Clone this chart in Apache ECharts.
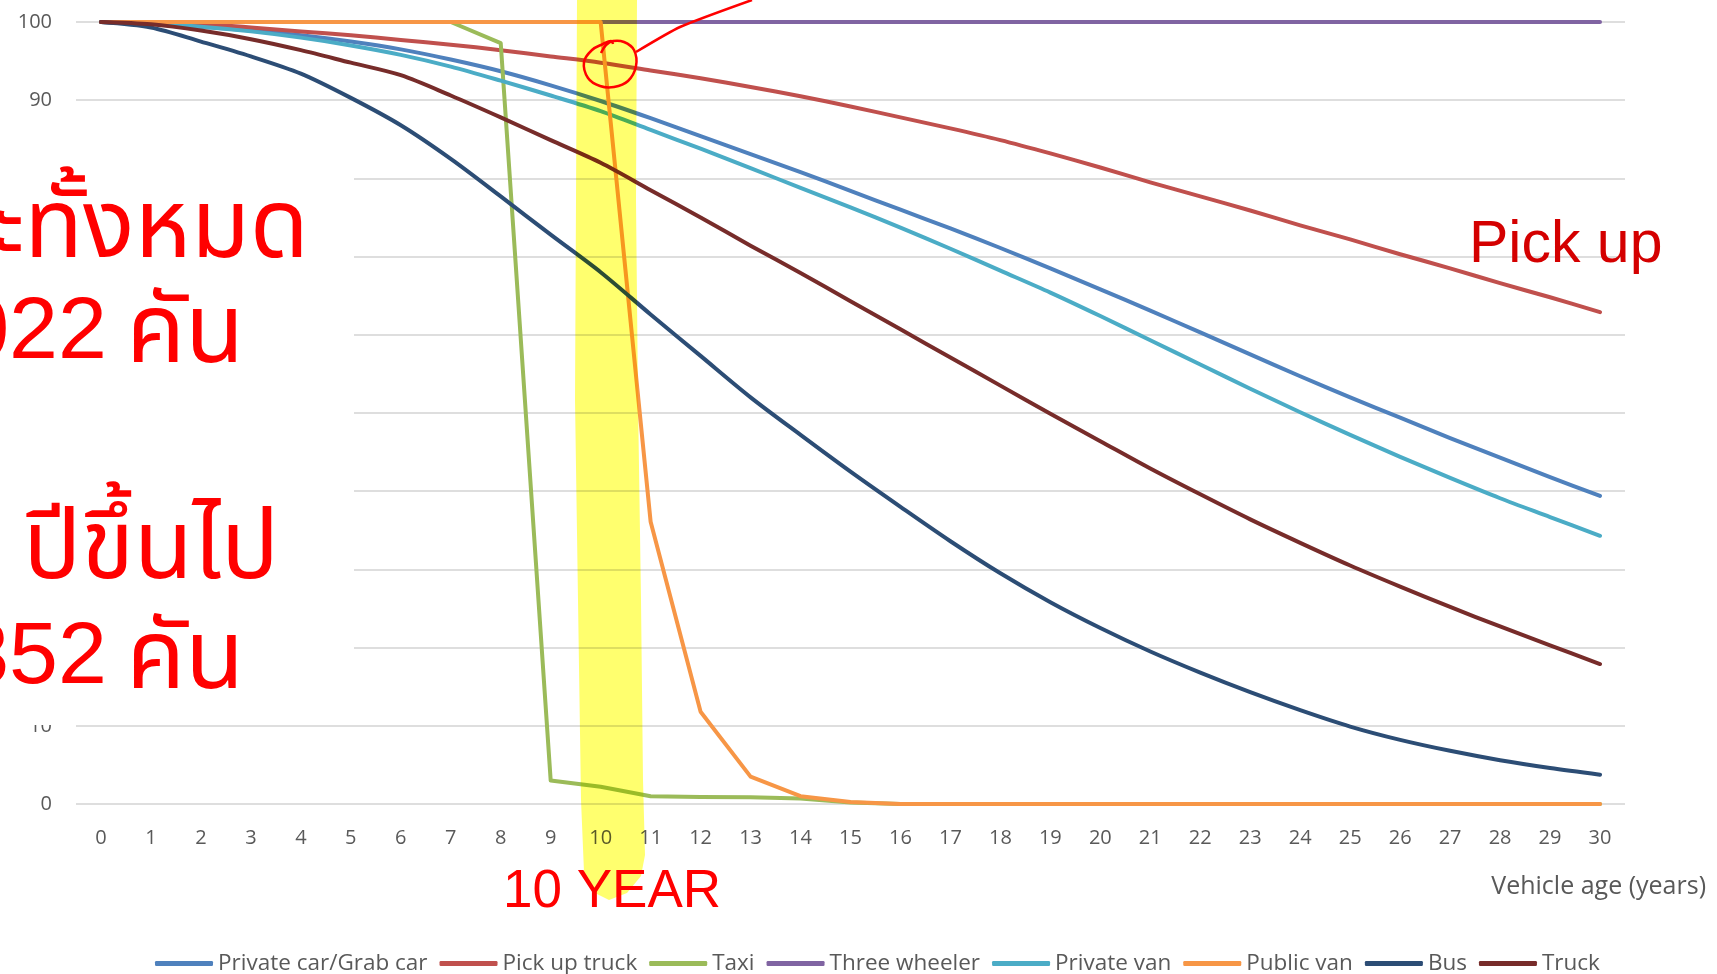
<!DOCTYPE html>
<html>
<head>
<meta charset="utf-8">
<script src="https://cdn.jsdelivr.net/npm/echarts@6/dist/echarts.min.js"></script>
<style>
  html, body { margin: 0; padding: 0; background: #ffffff; }
  #chart { width: 1717px; height: 974px; }
</style>
</head>
<body>
<div id="chart"></div>
<script>
// Vehicle age in years (category axis)
const years = ['0','1','2','3','4','5','6','7','8','9','10','11','12','13','14','15',
               '16','17','18','19','20','21','22','23','24','25','26','27','28','29','30'];

// Share of vehicles still in service (%) by age
const privateCar = [100, 99.8, 99.4, 98.9, 98.3, 97.5, 96.5, 95.2, 93.7, 91.9, 89.9, 87.7, 85.4, 83.1, 80.8, 78.4,
                    76.0, 73.6, 71.1, 68.5, 65.8, 63.1, 60.3, 57.5, 54.7, 52.0, 49.4, 46.8, 44.3, 41.8, 39.4];
const pickUpTruck = [100, 99.9, 99.7, 99.3, 98.8, 98.3, 97.7, 97.1, 96.4, 95.6, 94.8, 93.8, 92.8, 91.7, 90.5, 89.2,
                     87.8, 86.4, 84.9, 83.2, 81.4, 79.5, 77.7, 75.9, 74.0, 72.2, 70.3, 68.5, 66.6, 64.8, 62.9];
const taxi = [100, 100, 100, 100, 100, 100, 100, 100, 97.3, 3.0, 2.2, 1.0, 0.9, 0.85, 0.7, 0.2,
              0, 0, 0, 0, 0, 0, 0, 0, 0, 0, 0, 0, 0, 0, 0];
const threeWheeler = [100, 100, 100, 100, 100, 100, 100, 100, 100, 100, 100, 100, 100, 100, 100, 100,
                      100, 100, 100, 100, 100, 100, 100, 100, 100, 100, 100, 100, 100, 100, 100];
const privateVan = [100, 99.8, 99.4, 98.8, 98.0, 97.0, 95.8, 94.3, 92.5, 90.6, 88.6, 86.2, 83.8, 81.3, 78.8, 76.3,
                    73.7, 71.0, 68.2, 65.4, 62.4, 59.3, 56.2, 53.1, 50.1, 47.2, 44.4, 41.7, 39.1, 36.7, 34.3];
const publicVan = [100, 100, 100, 100, 100, 100, 100, 100, 100, 100, 100, 36.1, 11.8, 3.5, 1.0, 0.25,
                   0, 0, 0, 0, 0, 0, 0, 0, 0, 0, 0, 0, 0, 0, 0];
const bus = [100, 99.3, 97.5, 95.6, 93.4, 90.3, 86.8, 82.5, 77.7, 72.8, 68.0, 62.6, 57.3, 52.0, 47.2, 42.5,
             38.0, 33.6, 29.5, 25.8, 22.5, 19.5, 16.8, 14.3, 12.0, 9.9, 8.2, 6.8, 5.6, 4.6, 3.75];
const truck = [100, 99.7, 98.9, 97.8, 96.4, 94.8, 93.2, 90.6, 87.8, 84.9, 82.0, 78.5, 75.0, 71.4, 67.9, 64.3,
               60.7, 57.1, 53.5, 49.9, 46.4, 42.9, 39.6, 36.4, 33.4, 30.5, 27.8, 25.2, 22.7, 20.3, 17.9];

const seriesNames = ['Private car/Grab car', 'Pick up truck', 'Taxi', 'Three wheeler',
                     'Private van', 'Public van', 'Bus', 'Truck'];
const seriesData = [privateCar, pickUpTruck, taxi, threeWheeler, privateVan, publicVan, bus, truck];
const seriesColors = ['#4f81bd', '#c0504d', '#9bbb59', '#8064a2', '#4bacc6', '#f79646', '#2c4d75', '#772c2a'];
// gradual survival curves are drawn smoothed, step-like ones with straight segments
const seriesSmooth = [0.3, 0.3, false, false, 0.3, false, 0.3, 0.3];

const labelFont = "'Open Sans', 'Noto Sans', sans-serif";
const thaiFont = "'Noto Sans Thai', 'Noto Sans Thai UI', 'Loma', 'Garuda', 'Tahoma', 'Noto Sans', sans-serif";
const digitFont = "'Liberation Sans Narrow', 'Liberation Sans', Arial, sans-serif";
const red = '#ff0000';

const chart = echarts.init(document.getElementById('chart'), null, { renderer: 'canvas' });

const option = {
  backgroundColor: '#ffffff',
  animation: false,
  color: seriesColors,
  grid: { left: 76, right: 92, top: 22, bottom: 170 },
  xAxis: {
    type: 'category',
    data: years,
    boundaryGap: true,
    axisLine: { show: false },
    axisTick: { show: false },
    axisLabel: { color: '#595959', fontSize: 20, fontFamily: labelFont, margin: 24, interval: 0 }
  },
  yAxis: {
    type: 'value',
    min: 0,
    max: 100,
    interval: 10,
    axisLine: { show: false },
    axisTick: { show: false },
    axisLabel: { color: '#595959', fontSize: 20, fontFamily: labelFont, margin: 24 },
    splitLine: { lineStyle: { color: '#dedede', width: 2 } }
  },
  legend: {
    left: 150,
    top: 947,
    icon: 'roundRect',
    itemWidth: 58,
    itemHeight: 5,
    itemGap: 12,
    textStyle: { color: '#595959', fontSize: 22.5, fontFamily: labelFont },
    data: seriesNames
  },
  series: seriesNames.map((name, i) => ({
    name: name,
    type: 'line',
    data: seriesData[i],
    symbol: 'none',
    smooth: seriesSmooth[i],
    lineStyle: { width: 4, color: seriesColors[i], cap: 'round', join: 'round' },
    itemStyle: { color: seriesColors[i] }
  })),
  graphic: [
    // slide panel covering the left part of the plot
    { type: 'rect', z: 100, shape: { x: 0, y: 120, width: 354, height: 605 }, style: { fill: '#ffffff' } },
    { type: 'text', z: 101, x: 309, y: 238, style: { text: 'ะทั้งหมด', font: '96px ' + thaiFont, fill: red, align: 'right', verticalAlign: 'middle' } },
    { type: 'text', z: 101, x: 107, y: 334, style: { text: '022', font: '88px ' + digitFont, fill: red, align: 'right', verticalAlign: 'middle' } },
    { type: 'text', z: 101, x: 244, y: 343, style: { text: 'คัน', font: '96px ' + thaiFont, fill: red, align: 'right', verticalAlign: 'middle' } },
    { type: 'text', z: 101, x: 279, y: 559, style: { text: 'ปีขึ้นไป', font: '96px ' + thaiFont, fill: red, align: 'right', verticalAlign: 'middle' } },
    { type: 'text', z: 101, x: 107, y: 659, style: { text: '352', font: '88px ' + digitFont, fill: red, align: 'right', verticalAlign: 'middle' } },
    { type: 'text', z: 101, x: 244, y: 669, style: { text: 'คัน', font: '96px ' + thaiFont, fill: red, align: 'right', verticalAlign: 'middle' } },

    // highlighter stroke over the 10-year column
    { type: 'polygon', z: 110,
      shape: { points: [[577, 0], [637, 0], [636, 200], [638, 400], [641, 600], [643, 780], [645, 855],
                        [641, 876], [627, 893], [609, 900], [593, 892], [584, 872], [581, 800], [578, 600],
                        [575, 400], [576, 200]] },
      style: { fill: '#ffff6e', blend: 'multiply' } },
    { type: 'text', z: 120, x: 503, y: 892, style: { text: '10 YEAR', font: '53px "Liberation Sans", Arial, sans-serif', fill: red, align: 'left', verticalAlign: 'middle' } },

    // hand-drawn circle with pointer line
    { type: 'polyline', z: 120,
      shape: { smooth: 0.4, points: [[613, 44], [611, 41], [603, 44], [592, 50], [584, 62], [588, 78], [600, 86],
                                     [614, 87], [628, 81], [636, 66], [634, 50], [624, 42], [613, 41], [606, 45], [601, 53]] },
      style: { stroke: red, lineWidth: 2.5, fill: null } },
    { type: 'polyline', z: 120,
      shape: { smooth: 0.2, points: [[636, 52], [680, 27], [752, 0]] },
      style: { stroke: red, lineWidth: 2.5, fill: null } },

    { type: 'text', z: 120, x: 1469, y: 246, style: { text: 'Pick up', font: '59px "Liberation Sans", Arial, sans-serif', fill: '#d40000', align: 'left', verticalAlign: 'middle' } },

    { type: 'text', z: 120, x: 1706, y: 887, style: { text: 'Vehicle age (years)', font: '25px ' + labelFont, fill: '#595959', align: 'right', verticalAlign: 'middle' } }
  ]
};

chart.setOption(option);
</script>
</body>
</html>
